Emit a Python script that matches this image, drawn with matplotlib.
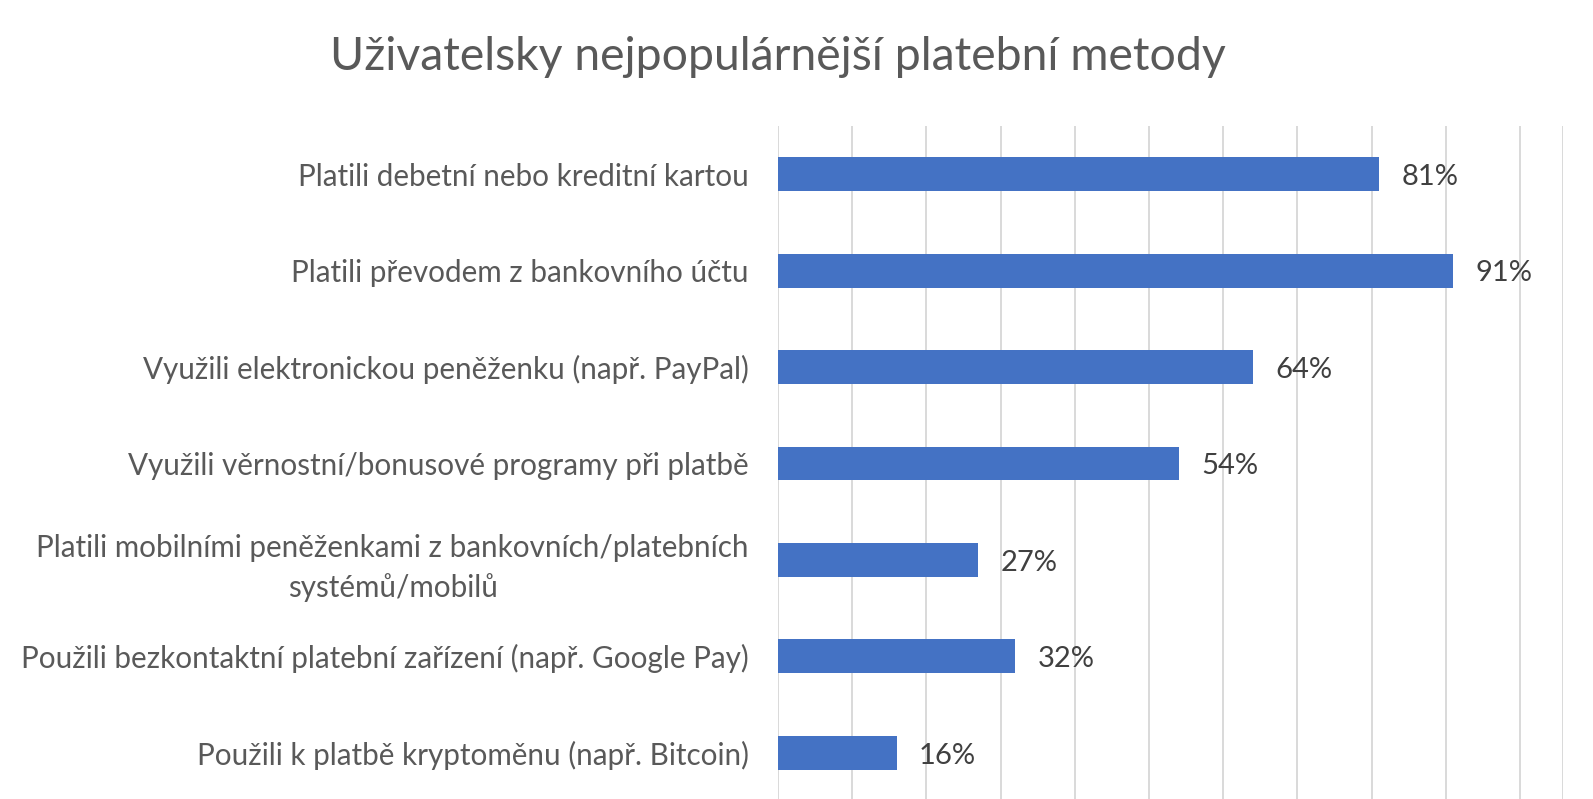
import numpy as np
import matplotlib.pyplot as plt

plt.rcParams['font.family'] = ['Lato', 'DejaVu Sans']

categories = [
    "Platili debetní nebo kreditní kartou",
    "Platili převodem z bankovního účtu",
    "Využili elektronickou peněženku (např. PayPal)",
    "Využili věrnostní/bonusové programy při platbě",
    "Platili mobilními peněženkami z bankovních/platebních\nsystémů/mobilů",
    "Použili bezkontaktní platební zařízení (např. Google Pay)",
    "Použili k platbě kryptoměnu (např. Bitcoin)",
]
values = [0.81, 0.91, 0.64, 0.54, 0.27, 0.32, 0.16]
title = "Uživatelsky nejpopulárnější platební metody"

fig = plt.figure(figsize=(15.93, 7.99), dpi=100)
ax = fig.add_axes([778 / 1593, -2 / 799, (1563 - 778) / 1593, 1 - 124 / 799])

y = np.arange(len(categories))
bars = ax.barh(y, values, height=0.35, color='#4472C4', zorder=3)

xmax = 1.058
ax.set_xlim(0, xmax)
ax.set_ylim(len(categories) - 0.5, -0.5)
ax.set_xticks(list(np.arange(0, 1.01, 0.1)) + [xmax])
ax.set_xticklabels([])
ax.tick_params(axis='x', length=0)
ax.grid(axis='x', color='#D9D9D9', linewidth=1.4, zorder=0)
for s in ax.spines.values():
    s.set_visible(False)

ax.set_yticks(y)
ax.set_yticklabels(categories, fontsize=21.3, color='#595959')
ax.tick_params(axis='y', length=0, pad=21)
for lbl in ax.get_yticklabels():
    lbl.set_multialignment('center')
    lbl.set_linespacing(1.45)

for b, v in zip(bars, values):
    ax.annotate(f"{round(v * 100)}%", (b.get_width(), b.get_y() + b.get_height() / 2),
                xytext=(16, -2), textcoords='offset points', va='center', ha='left',
                fontsize=21, color='#404040')

fig.text(0.488, 1 - 57 / 799, title, ha='center', va='center', fontsize=33.4, color='#595959')

fig.savefig('out.png', dpi=100)
